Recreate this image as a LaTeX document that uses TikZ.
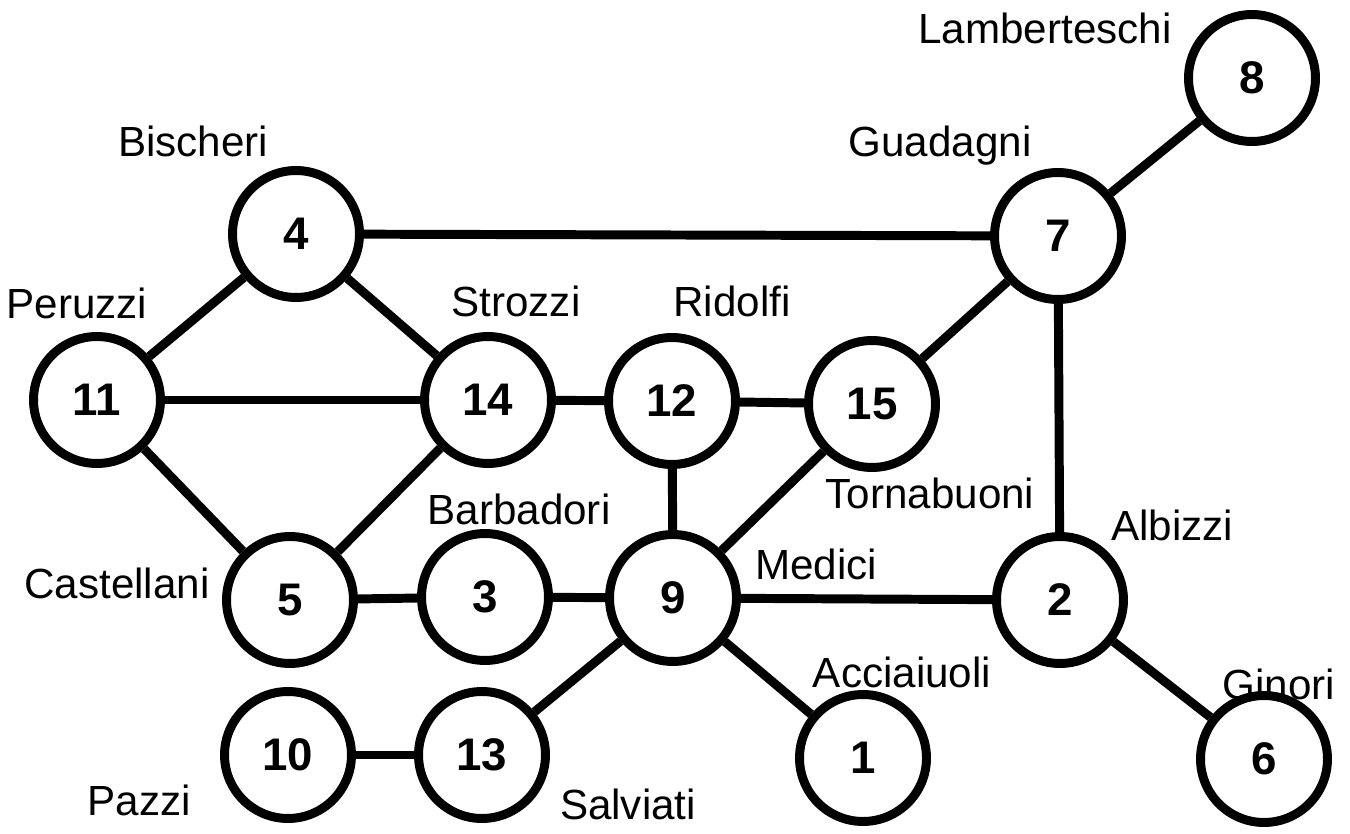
\documentclass[tikz,border=0pt]{standalone}
\usepackage{fontspec}
\setmainfont{Liberation Sans}

\begin{document}
\begin{tikzpicture}[x=0.02cm,y=-0.02cm,
  family/.style={circle,draw,line width=5.1pt,fill=white,minimum size=2.54cm,
    inner sep=0pt,font=\fontsize{26}{26}\selectfont\bfseries},
  house/.style={anchor=base,font=\fontsize{24}{24}\selectfont},
  tie/.style={line width=5.1pt}]

\useasboundingbox (0,0) rectangle (1350,834);

% define the family names
  \node[house] (l1)  at (902,687)  {Acciaiuoli};
  \node[house] (l2)  at (1172,541) {Albizzi};
  \node[house] (l3)  at (519,525)  {Barbadori};
  \node[house] (l4)  at (193,157)  {Bischeri};
  \node[house] (l5)  at (117,599)  {Castellani};
  \node[house] (l6)  at (1279,700) {Ginori};
  \node[house] (l7)  at (940,157)  {Guadagni};
  \node[house] (l8)  at (1045,44)  {Lamberteschi};
  \node[house] (l9)  at (816,580)  {Medici};
  \node[house] (l10) at (139,815)  {Pazzi};
  \node[house] (l11) at (77,319)   {Peruzzi};
  \node[house] (l12) at (732,317)  {Ridolfi};
  \node[house] (l13) at (628,819)  {Salviati};
  \node[house] (l14) at (516,317)  {Strozzi};
  \node[house] (l15) at (930,509)  {Tornabuoni};

% define the families
  \node[family] (f1)  at (863,758)  {1};
  \node[family] (f2)  at (1060,600) {2};
  \node[family] (f3)  at (485,597)  {3};
  \node[family] (f4)  at (296,234)  {4};
  \node[family] (f5)  at (290,600)  {5};
  \node[family] (f6)  at (1264,759) {6};
  \node[family] (f7)  at (1058,236) {7};
  \node[family] (f8)  at (1252,78)  {8};
  \node[family] (f9)  at (673,598)  {9};
  \node[family] (f10) at (288,755)  {10};
  \node[family] (f11) at (97,400)   {11};
  \node[family] (f12) at (672,401)  {12};
  \node[family] (f13) at (482,755)  {13};
  \node[family] (f14) at (488,400)  {14};
  \node[family] (f15) at (872,404)  {15};

% define the marriages
  \path[tie] (f8)  edge (f7)
        (f4)  edge (f7)
              edge (f11)
              edge (f14)
        (f11) edge (f14)
              edge (f5)
        (f14) edge (f5)
              edge (f12)
        (f12) edge (f15)
              edge (f9)
        (f15) edge (f7)
              edge (f9)
        (f7)  edge (f2)
        (f5)  edge (f3)
        (f3)  edge (f9)
        (f9)  edge (f2)
              edge (f13)
              edge (f1)
        (f10) edge (f13)
        (f2)  edge (f6);

\end{tikzpicture}
\end{document}
